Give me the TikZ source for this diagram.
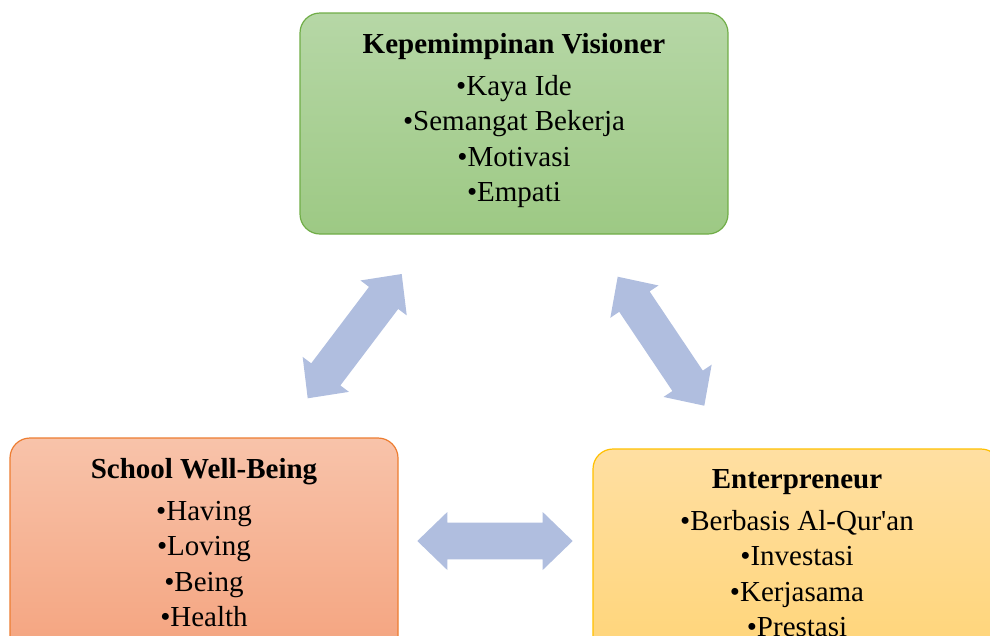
\documentclass[tikz,border=0pt]{standalone}
\usepackage{fontspec}
\setmainfont{Liberation Serif}[Ligatures=TeXOff]
\usetikzlibrary{calc}
\definecolor{greentop}{RGB}{182,215,166}
\definecolor{greenbot}{RGB}{157,201,132}
\definecolor{greenline}{RGB}{112,173,71}
\definecolor{orangetop}{RGB}{248,195,170}
\definecolor{orangebot}{RGB}{244,163,126}
\definecolor{orangeline}{RGB}{237,125,49}
\definecolor{yellowtop}{RGB}{255,223,162}
\definecolor{yellowbot}{RGB}{255,212,118}
\definecolor{yellowline}{RGB}{255,192,0}
\definecolor{arrowc}{RGB}{176,190,223}
\tikzset{
  box/.style={draw, line width=1.2pt, rounded corners=20pt, inner sep=0pt, outer sep=0pt},
  titletext/.style={anchor=base, inner sep=0pt, font=\fontsize{29}{35}\selectfont\bfseries},
  itemtext/.style={anchor=base, inner sep=0pt, font=\fontsize{29}{35}\selectfont},
  arrowfill/.style={fill=arrowc, draw=none},
}
\newcommand\blockarrow[2]{%
  \coordinate (#1h) at ($(#1)!30pt!(#2)$);
  \coordinate (#2h) at ($(#2)!30pt!(#1)$);
  \fill[arrowfill] (#1) -- ($(#1h)!29pt!90:(#2)$) -- ($(#1h)!18.3pt!90:(#2)$)
    -- ($(#2h)!18.3pt!-90:(#1)$) -- ($(#2h)!29pt!-90:(#1)$) -- (#2)
    -- ($(#2h)!29pt!90:(#1)$) -- ($(#2h)!18.3pt!90:(#1)$)
    -- ($(#1h)!18.3pt!-90:(#2)$) -- ($(#1h)!29pt!-90:(#2)$) -- cycle;}
\begin{document}
\begin{tikzpicture}[x=1pt,y=-1pt]
\useasboundingbox (0,0) rectangle (990,635);
\begin{scope}
\clip (0,0) rectangle (990,635);
% boxes
\node[box, draw=greenline, top color=greentop, bottom color=greenbot,
      minimum width=428pt, minimum height=221pt] (G) at (514,123.5) {};
\node[box, draw=orangeline, top color=orangetop, bottom color=orangebot,
      minimum width=388pt, minimum height=222pt] (O) at (204,549) {};
\node[box, draw=yellowline, top color=yellowtop, bottom color=yellowbot,
      minimum width=408pt, minimum height=222pt] (Y) at (797,560) {};
% green texts
\node[titletext] (gt) at (514,53) {Kepemimpinan Visioner};
\node[itemtext] (g1) at (514,95) {•Kaya Ide};
\node[itemtext] (g2) at (514,130.5) {•Semangat Bekerja};
\node[itemtext] (g3) at (514,166) {•Motivasi};
\node[itemtext] (g4) at (514,201.5) {•Empati};
% orange texts
\node[titletext] (ot) at (204,478.3) {School Well-Being};
\node[itemtext] (o1) at (204,520) {•Having};
\node[itemtext] (o2) at (204,555.5) {•Loving};
\node[itemtext] (o3) at (204,591) {•Being};
\node[itemtext] (o4) at (204,626.5) {•Health};
% yellow texts
\node[titletext] (yt) at (797,488.3) {Enterpreneur};
\node[itemtext] (y1) at (797,530) {•Berbasis Al-Qur'an};
\node[itemtext] (y2) at (797,565.5) {•Investasi};
\node[itemtext] (y3) at (797,601) {•Kerjasama};
\node[itemtext] (y4) at (797,636.5) {•Prestasi};
% arrows
\coordinate (la) at (401.7,274);
\coordinate (lb) at (307.7,398.3);
\coordinate (ra) at (617.7,276.7);
\coordinate (rb) at (704.3,405.7);
\coordinate (ba) at (417.3,541);
\coordinate (bb) at (572.7,541);
\blockarrow{la}{lb}
\blockarrow{ra}{rb}
\blockarrow{ba}{bb}
\end{scope}
\end{tikzpicture}
\end{document}
